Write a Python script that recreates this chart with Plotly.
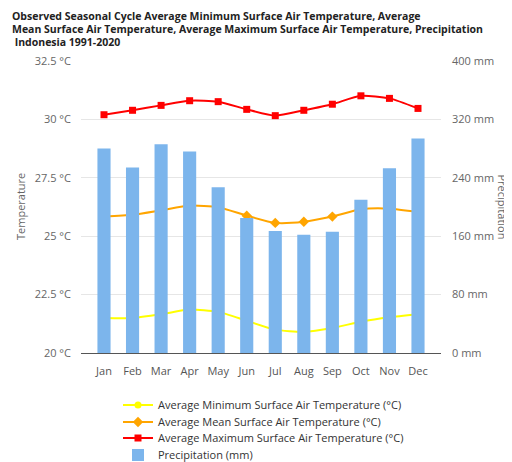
import plotly.graph_objects as go

months = ["Jan", "Feb", "Mar", "Apr", "May", "Jun", "Jul", "Aug", "Sep", "Oct", "Nov", "Dec"]
precip = [280, 254, 286, 276, 227, 185, 167, 162, 166, 210, 253, 294]
t_max = [30.20, 30.39, 30.60, 30.80, 30.76, 30.43, 30.16, 30.39, 30.65, 31.01, 30.90, 30.47]
t_mean = [25.84, 25.92, 26.11, 26.31, 26.24, 25.88, 25.57, 25.62, 25.84, 26.15, 26.18, 26.04]
t_min = [21.50, 21.50, 21.66, 21.86, 21.76, 21.38, 21.00, 20.91, 21.07, 21.34, 21.53, 21.66]

temp_ticks = [20, 22.5, 25, 27.5, 30, 32.5]
temp_labels = ["20 °C", "22.5 °C", "25 °C", "27.5 °C", "30 °C", "32.5 °C"]
precip_ticks = [0, 80, 160, 240, 320, 400]
precip_labels = ["0 mm", "80 mm", "160 mm", "240 mm", "320 mm", "400 mm"]

title_lines = [
    "Observed Seasonal Cycle Average Minimum Surface Air Temperature, Average",
    "Mean Surface Air Temperature, Average Maximum Surface Air Temperature, Precipitation",
    " Indonesia 1991-2020",
]

FONT = "Open Sans, Noto Sans, sans-serif"

# The page body has an 8px margin, so the figure is 8px smaller and offset.
OFF = 8
W, H = 512 - OFF, 462 - OFF
L, R, T, B = 81 - OFF, 71, 61 - OFF, 109
PW, PH = W - L - R, H - T - B


def py(page_y):
    """page pixel y -> paper y"""
    return (H - B - (page_y - OFF)) / PH


def px(page_x):
    return (page_x - OFF - L) / PW


fig = go.Figure()
fig.add_trace(go.Bar(
    x=months, y=precip, name="Precipitation (mm)", yaxis="y2",
    marker=dict(color="#7cb5ec", line=dict(width=0)), width=0.46, legend="legend4",
))
fig.add_trace(go.Scatter(
    x=months, y=t_min, name="Average Minimum Surface Air Temperature (°C)",
    mode="lines+markers", line=dict(color="#ffff00", width=2, shape="spline", smoothing=0.6),
    marker=dict(symbol="circle", size=7, color="#ffff00"), legend="legend",
))
fig.add_trace(go.Scatter(
    x=months, y=t_mean, name="Average Mean Surface Air Temperature (°C)",
    mode="lines+markers", line=dict(color="#ffa500", width=2, shape="spline", smoothing=0.6),
    marker=dict(symbol="diamond", size=8, color="#ffa500"), legend="legend2",
))
fig.add_trace(go.Scatter(
    x=months, y=t_max, name="Average Maximum Surface Air Temperature (°C)",
    mode="lines+markers", line=dict(color="#ff0000", width=2, shape="spline", smoothing=0.6),
    marker=dict(symbol="square", size=7, color="#ff0000"), legend="legend3",
))

annotations = []
for i, line in enumerate(title_lines):
    annotations.append(dict(
        text="<b>" + line + "</b>", xref="paper", yref="paper",
        x=px(10), y=py(16 + 13 * i), xanchor="left", yanchor="middle",
        showarrow=False, font=dict(family=FONT, size=10.5, color="#222222"),
    ))
# axis titles
annotations.append(dict(
    text="Temperature", xref="paper", yref="paper",
    x=px(20), y=py(207), xanchor="center", yanchor="middle", textangle=-90,
    borderpad=0, showarrow=False, font=dict(family=FONT, size=11, color="#666666"),
))
annotations.append(dict(
    text="Precipitation", xref="paper", yref="paper",
    x=px(511), y=py(207), xanchor="right", yanchor="middle", textangle=90,
    borderpad=0, showarrow=False, font=dict(family=FONT, size=11, color="#666666"),
))

leg_common = dict(orientation="v", xanchor="left", yanchor="middle",
                  font=dict(size=11, color="#333333"), bgcolor="rgba(0,0,0,0)")
legend_rows = [405, 422, 438, 455]

fig.update_layout(
    width=W, height=H,
    margin=dict(l=L, r=R, t=T, b=B, autoexpand=False),
    paper_bgcolor="white", plot_bgcolor="white",
    font=dict(family=FONT, size=11, color="#666666"),
    annotations=annotations,
    xaxis=dict(showgrid=False, showline=True, linecolor="#555555", linewidth=1,
               ticks="", automargin=False, ticklabelstandoff=8,
               tickfont=dict(size=11, color="#555555")),
    yaxis=dict(range=[20, 32.5], tickvals=temp_ticks, ticktext=temp_labels,
               showgrid=True, gridcolor="#e6e6e6", zeroline=False, ticks="", automargin=False,
               ticklabelstandoff=9, tickfont=dict(size=11, color="#666666")),
    yaxis2=dict(range=[0, 400], tickvals=precip_ticks, ticktext=precip_labels,
                overlaying="y", side="right", showgrid=False, zeroline=False, ticks="",
                automargin=False, ticklabelstandoff=10,
                tickfont=dict(size=11, color="#666666")),
    legend=dict(x=px(118), y=py(legend_rows[0]), **leg_common),
    legend2=dict(x=px(118), y=py(legend_rows[1]), **leg_common),
    legend3=dict(x=px(118), y=py(legend_rows[2]), **leg_common),
    legend4=dict(x=px(118), y=py(legend_rows[3]), **leg_common),
    showlegend=True,
)

fig.write_html("out.html")
